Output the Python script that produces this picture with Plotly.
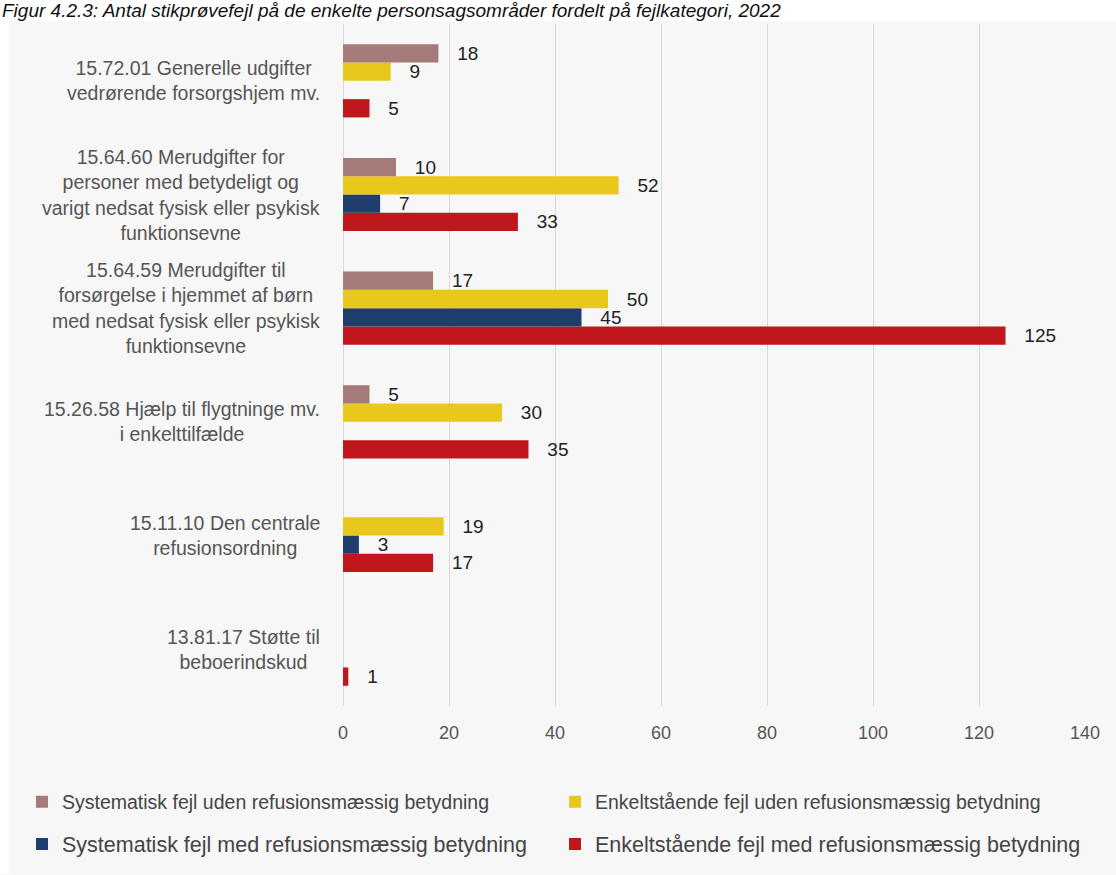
import plotly.graph_objects as go

# ---- data (top-to-bottom in the reference) ----
categories = [
    "15.72.01 Generelle udgifter<br>vedrørende forsorgshjem mv.",
    "15.64.60 Merudgifter for<br>personer med betydeligt og<br>varigt nedsat fysisk eller psykisk<br>funktionsevne",
    "15.64.59 Merudgifter til<br>forsørgelse i hjemmet af børn<br>med nedsat fysisk eller psykisk<br>funktionsevne",
    "15.26.58 Hjælp til flygtninge mv.<br>i enkelttilfælde",
    "15.11.10 Den centrale<br>refusionsordning",
    "13.81.17 Støtte til<br>beboerindskud",
]
sys_uden = [18, 10, 17, 5, 0, 0]      # Systematisk fejl uden refusionsmæssig betydning
enk_uden = [9, 52, 50, 30, 19, 0]     # Enkeltstående fejl uden refusionsmæssig betydning
sys_med = [0, 7, 45, 0, 3, 0]         # Systematisk fejl med refusionsmæssig betydning
enk_med = [5, 33, 125, 35, 17, 1]     # Enkeltstående fejl med refusionsmæssig betydning

series_names = [
    "Systematisk fejl uden refusionsmæssig betydning",
    "Enkeltstående fejl uden refusionsmæssig betydning",
    "Systematisk fejl med refusionsmæssig betydning",
    "Enkeltstående fejl med refusionsmæssig betydning",
]
x_ticks = [0, 20, 40, 60, 80, 100, 120, 140]
title_text = "Figur 4.2.3: Antal stikprøvefejl på de enkelte personsagsområder fordelt på fejlkategori, 2022"

colors = ["#a47b78", "#e8c81c", "#1f3e6b", "#c0171d"]
values = [sys_uden, enk_uden, sys_med, enk_med]

# plotly: categorical y bottom-up -> reverse
y_cats = categories[::-1]

W, H = 1116, 875
L, R, T, B = 343, 31, 24, 168
pw, ph = W - L - R, H - T - B

def px_x(p):
    return (p - L) / pw

def px_y(p):
    return (H - B - p) / ph

FONT = "Liberation Sans, Arial, sans-serif"
pad = "\u00a0\u00a0\u00a0"

fig = go.Figure()
legend_ids = ["legend", "legend", "legend2", "legend2"]
# Plotly grouped horizontal bars: first trace is lowest -> add in reverse order
for i in [3, 2, 1, 0]:
    vals = values[i][::-1]
    fig.add_trace(go.Bar(
        y=y_cats, x=vals, orientation="h", name=series_names[i],
        marker=dict(color=colors[i], line=dict(width=0)),
        text=[(pad + str(v)) if v else "" for v in vals],
        textposition="outside", cliponaxis=False, constraintext="none",
        textfont=dict(family=FONT, size=19, color="#222222"),
        legend=legend_ids[i], legendrank=i,
        hoverinfo="x+name",
    ))

# category labels: block right-aligned, lines centered
for c in categories:
    fig.add_annotation(
        x=px_x(322), xref="paper", y=c, yref="y",
        text=c, showarrow=False, xanchor="right", yanchor="middle", align="center",
        font=dict(family=FONT, size=19.5, color="#555555"),
    )

# title at the very top
fig.add_annotation(
    x=px_x(0), xref="paper", y=px_y(-2), yref="paper",
    text="<i>" + title_text + "</i>", showarrow=False, xanchor="left", yanchor="top",
    font=dict(family=FONT, size=19, color="#111111"),
)

# white strips around the (grey) chart image
fig.add_shape(type="rect", xref="paper", yref="paper", x0=px_x(0), x1=px_x(W), y0=px_y(21), y1=px_y(0),
              fillcolor="white", line=dict(width=0), layer="below")
fig.add_shape(type="rect", xref="paper", yref="paper", x0=px_x(0), x1=px_x(9), y0=px_y(H), y1=px_y(0),
              fillcolor="white", line=dict(width=0), layer="below")

fig.update_layout(
    width=W, height=H,
    margin=dict(l=L, r=R, t=T, b=B),
    paper_bgcolor="#f7f7f7", plot_bgcolor="rgba(0,0,0,0)",
    barmode="group", bargap=0.356, bargroupgap=0,
    font=dict(family=FONT, color="#555555"),
    xaxis=dict(range=[0, 140], tickvals=x_ticks, showgrid=True, gridcolor="#d9d9d9", gridwidth=1,
               zeroline=True, zerolinecolor="#d9d9d9", zerolinewidth=1, showline=False,
               tickfont=dict(family=FONT, size=18, color="#555555"), ticklabelstandoff=14,
               fixedrange=True),
    yaxis=dict(categoryorder="array", categoryarray=y_cats, showticklabels=False, showgrid=False,
               zeroline=False, showline=False, fixedrange=True),
    legend=dict(orientation="h", x=px_x(22), y=px_y(802), xanchor="left", yanchor="middle",
                entrywidth=488, entrywidthmode="pixels", bgcolor="rgba(0,0,0,0)",
                font=dict(family=FONT, size=19.5, color="#444444"), itemwidth=30),
    legend2=dict(orientation="h", x=px_x(22), y=px_y(844), xanchor="left", yanchor="middle",
                 entrywidth=488, entrywidthmode="pixels", bgcolor="rgba(0,0,0,0)",
                 font=dict(family=FONT, size=21.5, color="#444444"), itemwidth=30),
    showlegend=True,
)

fig.write_html("out.html", config={"displayModeBar": False},
               post_script="document.body.style.margin='0px';")
